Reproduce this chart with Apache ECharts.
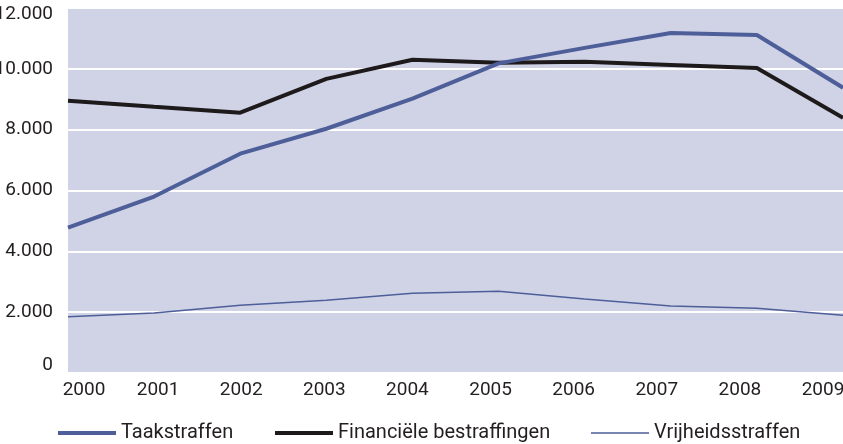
<html>
	<head>
		<meta charset="utf-8">
		<title>Straffen 2000-2009</title>
		<script src="https://cdn.jsdelivr.net/npm/echarts@6/dist/echarts.min.js"></script>
	</head>
	<body style="margin: 0px;">
		<div id="main" style="width: 843px;height:444px;"></div>
		<script type="text/javascript">
			var years = ['2000', '2001', '2002', '2003', '2004', '2005', '2006', '2007', '2008', '2009'];
			var taakstraffen = [4780, 5800, 7210, 8030, 9020, 10180, 10690, 11180, 11110, 9380];
			var financieel = [8950, 8750, 8560, 9670, 10300, 10200, 10230, 10130, 10030, 8390];
			var vrijheid = [1850, 1970, 2230, 2390, 2620, 2690, 2430, 2200, 2130, 1900];

			var font = 'Roboto';
			var ink = '#231f20';
			var blue = '#4d5e99';

			// one legend per item, the gaps between them are not even
			function legendAt(left, name, h) {
				return {
					left: left,
					top: 418,
					icon: 'rect',
					itemWidth: 58,
					itemHeight: h,
					data: [name],
					textStyle: { fontFamily: font, fontSize: 20, color: ink }
				};
			}

			var chart = echarts.init(document.getElementById('main'));
			chart.setOption({
				backgroundColor: '#ffffff',
				animation: false,
				legend: [
					legendAt(53, 'Taakstraffen', 4),
					legendAt(270, 'Financiële bestraffingen', 4),
					legendAt(586, 'Vrijheidsstraffen', 1.5)
				],
				grid: [
					{ left: 68, right: 0, top: 8, bottom: 71, outerBoundsMode: 'none', show: true, backgroundColor: '#d0d3e6', borderWidth: 0 },
					// labels of the years sit a little inwards of the data points
					{ left: 75, right: 20, top: 8, bottom: 71, outerBoundsMode: 'none' }
				],
				xAxis: [{
					type: 'category',
					data: years,
					boundaryGap: false,
					axisLine: { show: false },
					axisTick: { show: false },
					axisLabel: { show: false },
					splitLine: { show: false }
				}, {
					type: 'category',
					gridIndex: 1,
					data: years,
					boundaryGap: false,
					axisLine: { show: false },
					axisTick: { show: false },
					axisLabel: {
						interval: 0,
						fontFamily: font,
						fontSize: 19,
						color: ink,
						margin: 8,
						formatter: function(v, i) {
							return i === 0 ? '{first|' + v + '}' : v;
						},
						rich: {
							first: { fontFamily: font, fontSize: 19, color: ink, padding: [0, 0, 0, 18] }
						}
					},
					splitLine: { show: false }
				}],
				yAxis: [{
					type: 'value',
					min: 0,
					max: 12000,
					interval: 2000,
					axisLine: { show: false },
					axisTick: { show: false },
					splitLine: { lineStyle: { color: '#ffffff', width: 2 } },
					axisLabel: {
						fontFamily: font,
						fontSize: 19,
						color: ink,
						margin: 15,
						formatter: function(v) {
							var s = v >= 1000 ? Math.floor(v / 1000) + '.' + ('00' + v % 1000).slice(-3) : '' + v;
							if (v === 12000) return '{top|' + s + '}';
							if (v === 0) return '{bot|' + s + '}';
							return s;
						},
						rich: {
							top: { fontFamily: font, fontSize: 19, color: ink, padding: [12, 0, 0, 0] },
							bot: { fontFamily: font, fontSize: 19, color: ink, padding: [0, 0, 16, 0] }
						}
					}
				}, {
					type: 'value',
					gridIndex: 1,
					show: false
				}],
				series: [{
					name: 'Taakstraffen',
					type: 'line',
					data: taakstraffen,
					symbol: 'none',
					lineStyle: { color: blue, width: 4 },
					itemStyle: { color: blue },
					z: 3
				}, {
					name: 'Financiële bestraffingen',
					type: 'line',
					data: financieel,
					symbol: 'none',
					lineStyle: { color: '#1e1a1b', width: 4 },
					itemStyle: { color: '#1e1a1b' },
					z: 2
				}, {
					name: 'Vrijheidsstraffen',
					type: 'line',
					data: vrijheid,
					symbol: 'none',
					lineStyle: { color: blue, width: 1.5 },
					itemStyle: { color: blue },
					z: 2
				}]
			});
		</script>
	</body>
</html>
